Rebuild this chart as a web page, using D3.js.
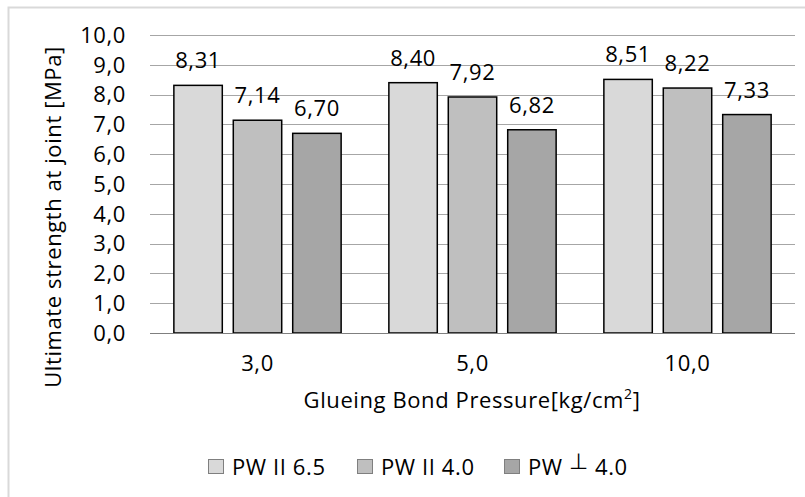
<!DOCTYPE html>
<html><head><meta charset="utf-8">
<script src="https://cdn.jsdelivr.net/npm/d3@7"></script>
<style>body{margin:0;background:#fff}svg{display:block}text{font-family:"Open Sans",sans-serif;fill:#000;letter-spacing:0.6px}</style>
</head><body><svg id="c" width="805" height="497"></svg>
<script>
const categories = ["3,0", "5,0", "10,0"];
const seriesNames = ["PW II 6.5", "PW II 4.0", "PW \u22A5 4.0"];
const s1 = [8.31, 8.40, 8.51];
const s2 = [7.14, 7.92, 8.22];
const s3 = [6.70, 6.82, 7.33];
const yTicks = [0,1,2,3,4,5,6,7,8,9,10];
const colors = ["#d9d9d9", "#bfbfbf", "#a6a6a6"];
const series = [s1, s2, s3];

const svg = d3.select("#c");
const fmt = v => v.toFixed(2).replace(".", ",");
const fmt1 = v => v.toFixed(1).replace(".", ",");
const FS = 22;

svg.append("rect").attr("x", 8.5).attr("y", 7.5).attr("width", 820).attr("height", 520)
  .attr("fill", "#fff").attr("stroke", "#d9d9d9").attr("stroke-width", 2);

const L = 150, R = 795, T = 35, B = 333;
const x0 = d3.scaleBand().domain(categories).range([L, R]).paddingInner(0.222).paddingOuter(0.111);
const x1 = d3.scaleBand().domain([0,1,2]).range([0, x0.bandwidth()]).paddingInner(0.185);
const y = d3.scaleLinear().domain([0, 10]).range([B, T]);

// gridlines
svg.append("g").selectAll("line").data(yTicks.slice(1)).join("line")
  .attr("x1", L).attr("x2", R).attr("y1", d => Math.round(y(d)) + 0.5).attr("y2", d => Math.round(y(d)) + 0.5)
  .attr("stroke", "#a6a6a6").attr("stroke-width", 1);

// y labels
svg.append("g").selectAll("text").data(yTicks).join("text")
  .attr("x", 126).attr("y", d => y(d)).attr("dy", "0.35em").attr("text-anchor", "end")
  .attr("font-size", FS).text(d => fmt1(d));

// bars
const g = svg.append("g");
categories.forEach((c, i) => {
  series.forEach((s, j) => {
    const bx = x0(c) + x1(j);
    g.append("rect").attr("x", bx).attr("y", y(s[i])).attr("width", x1.bandwidth())
      .attr("height", y(0) - y(s[i])).attr("fill", colors[j]).attr("stroke", "#000").attr("stroke-width", 1.5);
    g.append("text").attr("x", bx + x1.bandwidth() / 2).attr("y", y(s[i]) - 17)
      .attr("text-anchor", "middle").attr("font-size", FS).text(fmt(s[i]));
  });
});

// baseline
svg.append("line").attr("x1", L).attr("x2", R).attr("y1", Math.round(y(0)) + 0.5).attr("y2", Math.round(y(0)) + 0.5)
  .attr("stroke", "#7f7f7f").attr("stroke-width", 1.2);

// x labels
svg.append("g").selectAll("text").data(categories).join("text")
  .attr("x", d => x0(d) + x0.bandwidth() / 2).attr("y", 363).attr("dy", "0.35em")
  .attr("text-anchor", "middle").attr("font-size", FS).text(d => d);

// x title
const xt = svg.append("text").attr("x", 472).attr("y", 400).attr("dy", "0.35em")
  .attr("text-anchor", "middle").attr("font-size", FS);
xt.append("tspan").text("Glueing Bond Pressure[kg/cm");
xt.append("tspan").attr("font-size", 14).attr("dy", "-0.6em").text("2");
xt.append("tspan").attr("dy", "0.38em").text("]");

// y title
svg.append("text").attr("transform", "translate(53,217) rotate(-90)").attr("dy", "0.35em")
  .attr("text-anchor", "middle").attr("font-size", FS).text("Ultimate strength at joint [MPa]");

// legend
const legX = [208, 357, 504];
const lg = svg.append("g");
seriesNames.forEach((n, j) => {
  lg.append("rect").attr("x", legX[j] + 0.5).attr("y", 459.5).attr("width", 15).attr("height", 14)
    .attr("fill", colors[j]).attr("stroke", "#7f7f7f").attr("stroke-width", 1);
  const t = lg.append("text").attr("x", legX[j] + 24).attr("y", 467).attr("dy", "0.35em").attr("font-size", FS);
  if (j < 2) t.text(n);
  else {
    t.append("tspan").text("PW ");
    t.append("tspan").attr("dy", "-0.25em").text("\u22A5");
    t.append("tspan").attr("dy", "0.25em").text(" 4.0");
  }
});
</script></body></html>
